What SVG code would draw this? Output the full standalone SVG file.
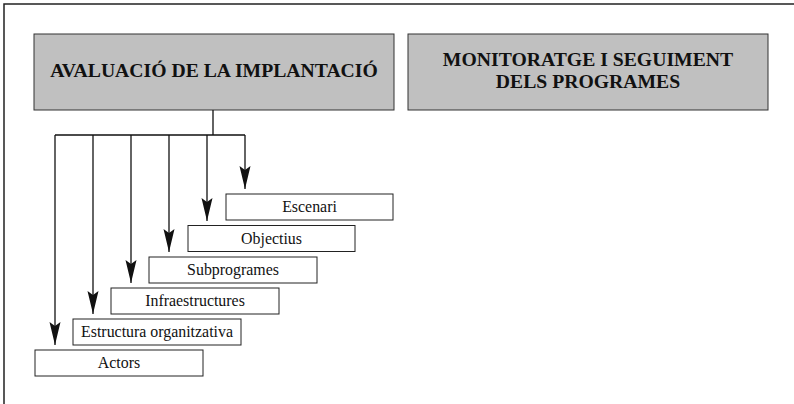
<svg xmlns="http://www.w3.org/2000/svg" width="794" height="404" viewBox="0 0 794 404">
<defs>
<style>
.frame{fill:none;stroke:#222;stroke-width:1.5}
.head{fill:#c0c0c0;stroke:#333;stroke-width:1}
.box{fill:#fff;stroke:#222;stroke-width:1}
.ht{font-family:'Liberation Serif','DejaVu Serif',serif;font-weight:bold;font-size:19.7px;fill:#111;text-anchor:middle}
.bt{font-family:'Liberation Serif','DejaVu Serif',serif;font-size:15.9px;fill:#111;text-anchor:middle}
.ln{fill:none;stroke:#111;stroke-width:1.3}
</style>
<marker id="arr" markerUnits="userSpaceOnUse" markerWidth="26" markerHeight="14" viewBox="-24 -7 26 14" refX="0" refY="0" orient="auto">
<path d="M0,0 L-23,-5.5 L-19,0 L-23,5.5 Z" fill="#111"/>
</marker>
</defs>
<rect width="794" height="404" fill="#fff"/>
<path class="frame" d="M4,404 V4 H794"/>
<g id="avaluacio">
<rect class="head" x="34" y="34" width="360" height="76"/>
<text class="ht" x="214" y="77">AVALUACIÓ DE LA IMPLANTACIÓ</text>
</g>
<g id="monitoratge">
<rect class="head" x="408" y="34" width="360" height="76"/>
<text class="ht" x="588" y="66">MONITORATGE I SEGUIMENT</text>
<text class="ht" x="588" y="88">DELS PROGRAMES</text>
</g>
<g id="connectors">
<path class="ln" d="M213,110 V135 M55,135 H245"/>
<path class="ln" d="M245,135 V189" marker-end="url(#arr)"/>
<path class="ln" d="M207,135 V221" marker-end="url(#arr)"/>
<path class="ln" d="M169,135 V252" marker-end="url(#arr)"/>
<path class="ln" d="M131,135 V283" marker-end="url(#arr)"/>
<path class="ln" d="M93,135 V314" marker-end="url(#arr)"/>
<path class="ln" d="M55,135 V345" marker-end="url(#arr)"/>
</g>
<g id="escenari">
<rect class="box" x="226" y="194" width="167" height="26"/>
<text class="bt" x="309.5" y="212">Escenari</text>
</g>
<g id="objectius">
<rect class="box" x="188" y="225.5" width="167" height="26"/>
<text class="bt" x="271.5" y="243.5">Objectius</text>
</g>
<g id="subprogrames">
<rect class="box" x="149" y="257" width="168" height="26"/>
<text class="bt" x="233" y="275">Subprogrames</text>
</g>
<g id="infraestructures">
<rect class="box" x="111" y="288" width="168" height="26"/>
<text class="bt" x="195" y="306">Infraestructures</text>
</g>
<g id="estructura">
<rect class="box" x="73" y="319" width="168" height="26"/>
<text class="bt" x="157" y="337">Estructura organitzativa</text>
</g>
<g id="actors">
<rect class="box" x="35" y="350" width="168" height="26"/>
<text class="bt" x="119" y="368">Actors</text>
</g>
</svg>
